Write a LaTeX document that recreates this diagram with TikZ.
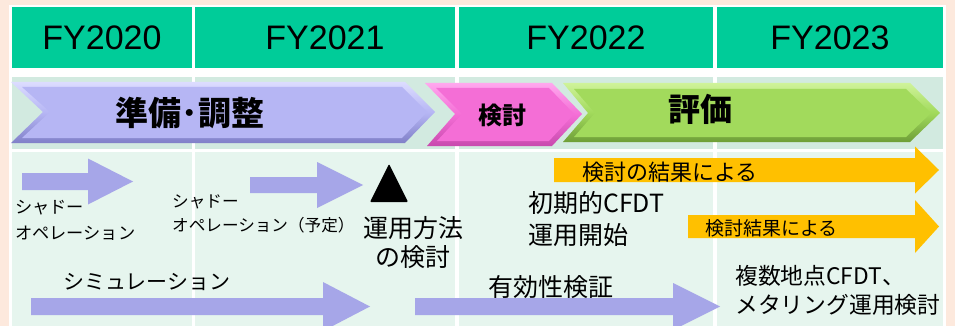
\documentclass[tikz,border=0pt]{standalone}
\usepackage{fontspec}
\setmainfont{Liberation Sans}
\newfontfamily\jp{Noto Sans CJK JP}
\definecolor{peach}{HTML}{FDE9DD}
\definecolor{hdr}{HTML}{00CC99}
\definecolor{rowb}{HTML}{D2EAE0}
\definecolor{rowc}{HTML}{E6F5EE}
\definecolor{lav}{HTML}{A6A6E8}
\definecolor{orng}{HTML}{FFC000}
\definecolor{purF}{HTML}{B6B6F4}
\definecolor{purL}{HTML}{DCDCFF}
\definecolor{purD}{HTML}{8080C8}
\definecolor{pinkF}{HTML}{F46ED6}
\definecolor{pinkL}{HTML}{FFA8EE}
\definecolor{pinkD}{HTML}{C84AAE}
\definecolor{grnF}{HTML}{A2DA5C}
\definecolor{grnL}{HTML}{CFF39A}
\definecolor{grnD}{HTML}{6E9E38}
\tikzset{
  hcell/.style={fill=hdr},
  yr/.style={font=\fontsize{34}{40}\selectfont, text=black},
  jtext/.style={font=\jp\fontsize{#1}{#1}\selectfont, inner sep=0pt, text=black},
  jml/.style 2 args={font=\jp\fontsize{#1}{#2}\selectfont, inner sep=0pt, align=left, text=black},
  jtitle/.style={font=\jp\bfseries\fontsize{#1}{#1}\selectfont, inner sep=0pt, text=black},
}
% fat arrow: x-start, head-start x, tip x, center y, shaft half, head half, colour
\newcommand{\fatarrow}[7]{%
  \fill[#7] (#1,#4-#5) -- (#2,#4-#5) -- (#2,#4-#6) -- (#3,#4) -- (#2,#4+#6) -- (#2,#4+#5) -- (#1,#4+#5) -- cycle;}
\begin{document}
\begin{tikzpicture}[x=1pt,y=-1pt]
\useasboundingbox (0,0) rectangle (955,326);
\clip (0,0) rectangle (955,326);
\fill[peach] (0,0) rectangle (955,326);
\fill[white] (9,5) rectangle (946,326);
% header cells
\fill[hcell] (12,7) rectangle (192,68);
\fill[hcell] (195,7) rectangle (455,68);
\fill[hcell] (459,7) rectangle (713,68);
\fill[hcell] (717,7) rectangle (943,68);
% row 2
\fill[rowb] (12,77) rectangle (192,149);
\fill[rowb] (195,77) rectangle (455,149);
\fill[rowb] (459,77) rectangle (713,149);
\fill[rowb] (717,77) rectangle (943,149);
% row 3
\fill[rowc] (12,152) rectangle (192,326);
\fill[rowc] (195,152) rectangle (455,326);
\fill[rowc] (459,152) rectangle (713,326);
\fill[rowc] (717,152) rectangle (943,326);
% year labels
\node[yr] (y20) at (102,38) {FY2020};
\node[yr] (y21) at (325,38) {FY2021};
\node[yr] (y22) at (586,38) {FY2022};
\node[yr] (y23) at (830,38) {FY2023};
% chevrons
\shade[top color=purL, bottom color=purD, middle color=purF]
  (11,82) -- (405,82) -- (435,112) -- (405,143) -- (11,143) -- (43,112) -- cycle;
\fill[purF] (22,87) -- (402,87) -- (427,112) -- (402,138) -- (22,138) -- (50,112) -- cycle;
\shade[top color=pinkL, bottom color=pinkD, middle color=pinkF]
  (425,83) -- (552,83) -- (582,114) -- (552,146) -- (427,146) -- (455,114) -- cycle;
\fill[pinkF] (436,88) -- (549,88) -- (574,114) -- (549,141) -- (437,141) -- (462,114) -- cycle;
\shade[top color=grnL, bottom color=grnD, middle color=grnF]
  (563,83) -- (910,83) -- (940,113) -- (910,142) -- (563,142) -- (588,113) -- cycle;
\fill[grnF] (574,89) -- (906,89) -- (931,113) -- (906,137) -- (574,137) -- (595,113) -- cycle;
\node[jtitle=33] (prep) at (190,113) {準備･調整};
\node[jtitle=24] (kento) at (502,115) {検討};
\node[jtitle=32] (hyoka) at (700,109) {評価};
% row 3 arrows
\fatarrow{22}{88}{133}{181.5}{8.5}{23}{lav}
\fatarrow{250}{317}{363}{185}{8}{23}{lav}
\fatarrow{31}{323}{370}{306.5}{8.5}{24.5}{lav}
\fatarrow{415}{673}{720}{306.5}{8.5}{23.5}{lav}
\fatarrow{554}{915}{939}{170}{12}{23.5}{orng}
\fatarrow{688}{915}{939}{226.5}{11.5}{26.5}{orng}
% triangle
\fill[black, rounded corners=1pt] (370,202) -- (389,164) -- (408,202) -- cycle;
\node[inner sep=0pt] (tri) at (389,188) {};
% row 3 texts
\node[jml={17.2}{26}, anchor=west] (shadow1) at (15,220) {シャドー\\オペレーション};
\node[jml={16.6}{24}, anchor=west] (shadow2) at (172,214) {シャドー\\オペレーション（予定）};
\node[jml={25}{29}, align=center] (unyo) at (413,243) {運用方法\\の検討};
\node[jtext=21, anchor=west] (sim) at (63,282) {シミュレーション};
\node[jtext=25, anchor=west] (yuko) at (488,287) {有効性検証};
\node[jml={25}{32}, anchor=west] (shoki) at (528,219) {初期的CFDT\\運用開始};
\node[jml={22.8}{29}, anchor=west] (fukusu) at (735,290) {複数地点CFDT、\\メタリング運用検討};
\node[jtext=22, anchor=west] (kekka1) at (582,172) {検討の結果による};
\node[jtext=19, anchor=west] (kekka2) at (705,228) {検討結果による};
\end{tikzpicture}
\end{document}
